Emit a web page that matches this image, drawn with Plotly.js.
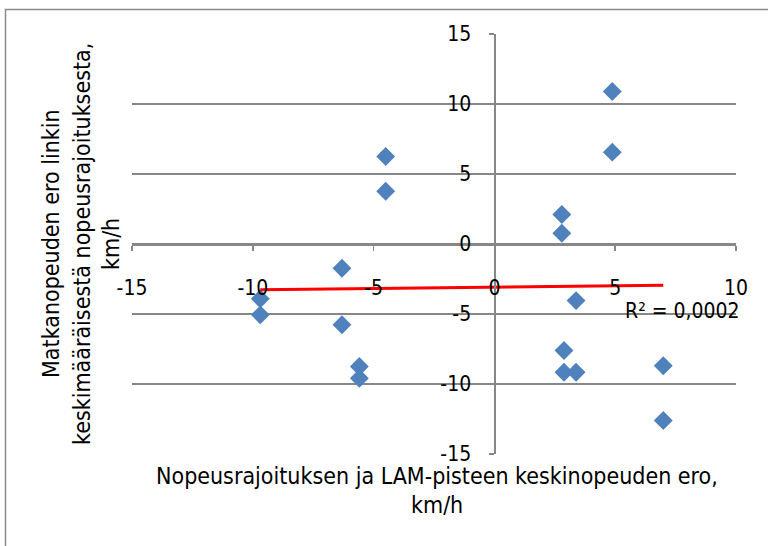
<!DOCTYPE html>
<html>
<head>
<meta charset="utf-8">
<script src="https://cdn.plot.ly/plotly-3.0.1.min.js"></script>
<style>
  html, body { margin: 0; padding: 0; background: #ffffff; }
  #chart { width: 768px; height: 546px; }
</style>
</head>
<body>
<div id="chart"></div>
<script>
// Difference between speed limit and LAM point mean speed (km/h)
const speedLimitDiff = [-4.50, -4.50, -9.69, -9.69, -6.31, -6.31, -5.59, -5.59,
                        4.88, 4.88, 2.79, 2.79, 3.38, 2.88, 2.88, 3.38, 6.99, 6.99];
// Difference between travel speed and link's average speed limit (km/h)
const travelSpeedDiff = [6.25, 3.77, -3.91, -5.06, -1.73, -5.77, -8.75, -9.59,
                         10.89, 6.56, 2.11, 0.77, -4.04, -7.61, -9.16, -9.16, -8.70, -12.61];
const xTickValues = [-15, -10, -5, 0, 5, 10];
const yTickValues = [-15, -10, -5, 0, 5, 10, 15];
const r2Text = 'R² = 0,0002';
const xTitleLines = ['Nopeusrajoituksen ja LAM-pisteen keskinopeuden ero,', 'km/h'];
const yTitleLines = ['Matkanopeuden ero linkin', 'keskimääräisestä nopeusrajoituksesta,', 'km/h'];

// Least-squares linear trend over the points
function linearFit(xs, ys) {
  const n = xs.length;
  const mx = xs.reduce((a, b) => a + b, 0) / n;
  const my = ys.reduce((a, b) => a + b, 0) / n;
  let sxy = 0, sxx = 0;
  for (let i = 0; i < n; i++) {
    sxy += (xs[i] - mx) * (ys[i] - my);
    sxx += (xs[i] - mx) * (xs[i] - mx);
  }
  const slope = sxy / sxx;
  return { slope, intercept: my - slope * mx };
}
const fit = linearFit(speedLimitDiff, travelSpeedDiff);
const xMin = Math.min(...speedLimitDiff);
const xMax = Math.max(...speedLimitDiff);
const trendX = [xMin, xMax];
const trendY = trendX.map(v => fit.intercept + fit.slope * v);

const FONT = '"Liberation Sans Narrow", "DejaVu Sans Condensed", Arial, sans-serif';
const GRID = '#878787';
const TITLE_SIZE = 23;

// plot area in pixels
const W = 768, H = 546;
const M = { l: 132, r: 32, t: 34, b: 92 };
const pw = W - M.l - M.r, ph = H - M.t - M.b;
const px2x = p => (p - M.l) / pw;
const py2y = p => (M.t + ph - p) / ph;

const traces = [
  {
    type: 'scatter', mode: 'markers',
    x: speedLimitDiff, y: travelSpeedDiff,
    marker: { symbol: 'diamond', size: 14.5, color: '#4F81BD', line: { width: 0 } },
    hoverinfo: 'skip', showlegend: false
  },
  {
    type: 'scatter', mode: 'lines',
    x: trendX, y: trendY,
    line: { color: '#FF0000', width: 3 },
    hoverinfo: 'skip', showlegend: false
  }
];

const annotations = [];
xTitleLines.forEach((t, i) => annotations.push({
  text: t, xref: 'paper', yref: 'paper',
  x: px2x(437), y: py2y(476 + i * 29),
  xanchor: 'center', yanchor: 'middle', showarrow: false,
  font: { family: FONT, size: TITLE_SIZE, color: '#000' }
}));
const yTitleX = [51, 82, 111];
yTitleLines.forEach((t, i) => annotations.push({
  text: t, xref: 'paper', yref: 'paper',
  x: px2x(yTitleX[i]), y: py2y(244),
  xanchor: 'center', yanchor: 'middle', textangle: -90, showarrow: false,
  font: { family: FONT, size: TITLE_SIZE, color: '#000' }
}));
annotations.push({
  text: r2Text, xref: 'x', yref: 'y',
  x: 7.8, y: -4.8, xanchor: 'center', yanchor: 'middle', showarrow: false,
  font: { family: FONT, size: 21, color: '#000' }
});

const layout = {
  width: W, height: H,
  margin: M,
  paper_bgcolor: '#ffffff', plot_bgcolor: '#ffffff',
  font: { family: FONT, size: 21, color: '#000' },
  showlegend: false,
  xaxis: {
    range: [-15, 10], tickvals: xTickValues, ticktext: xTickValues.map(String),
    anchor: 'free', position: 0.5,
    showgrid: false, zeroline: false,
    showline: true, linecolor: GRID, linewidth: 1.5,
    ticks: 'outside', ticklen: 5, tickcolor: GRID, tickwidth: 1.5,
    ticklabelstandoff: 19,
    tickfont: { family: FONT, size: 21, color: '#000' }
  },
  yaxis: {
    range: [-15, 15], tickvals: yTickValues, ticktext: yTickValues.map(String),
    anchor: 'free', position: 0.6,
    showgrid: true, gridcolor: GRID, gridwidth: 1.5, zeroline: false,
    showline: true, linecolor: GRID, linewidth: 1.5,
    ticks: 'outside', ticklen: 5, tickcolor: GRID, tickwidth: 1.5,
    ticklabelstandoff: 14,
    tickfont: { family: FONT, size: 21, color: '#000' }
  },
  annotations: annotations,
  shapes: [{
    type: 'rect', xref: 'paper', yref: 'paper',
    x0: px2x(5.5), y0: py2y(560), x1: px2x(790), y1: py2y(9.5),
    line: { color: '#8a8a8a', width: 1.5 }, fillcolor: 'rgba(0,0,0,0)', layer: 'below'
  }]
};

Plotly.newPlot('chart', traces, layout, { staticPlot: true, displayModeBar: false });
</script>
</body>
</html>
